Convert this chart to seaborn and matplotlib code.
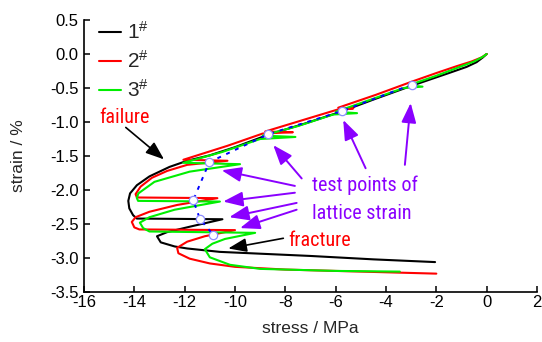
import numpy as np
import pandas as pd
import matplotlib
matplotlib.use("Agg")
import matplotlib.pyplot as plt
from matplotlib import font_manager
from matplotlib.lines import Line2D
import seaborn as sns

# ---------------- data (stress MPa, strain %) ----------------
s1_stress = [0, -0.15, -0.4, -0.8, -1.5, -3.0, -4.5, -5.8, -7.2, -8.7, -10.0, -11.0, -11.9,
             -12.6, -13.4, -13.9, -14.17, -14.24, -14.2, -14.05, -13.9, -10.5, -11.8, -12.7,
             -13.1, -12.95, -12.4, -11.9, -10.6, -9.4, -7.0, -4.5, -2.05]
s1_strain = [0, -0.05, -0.12, -0.19, -0.28, -0.47, -0.67, -0.85, -1.02, -1.19, -1.37, -1.49, -1.57,
             -1.66, -1.80, -1.93, -2.05, -2.16, -2.27, -2.37, -2.42, -2.43, -2.54, -2.62,
             -2.68, -2.77, -2.83, -2.86, -2.91, -2.93, -2.97, -3.02, -3.06]

s2_stress = [0, -0.2, -0.6, -1.2, -2.0, -3.0, -4.4, -5.9, -5.3, -5.95, -7.2, -8.8, -7.7, -8.9,
             -10.3, -12.05, -10.3, -11.9, -12.7, -13.3, -13.75, -13.95, -13.9, -10.7, -12.3,
             -13.4, -13.95, -14.1, -14.0, -13.8, -10.0, -11.2, -11.9, -12.3, -12.25, -11.8,
             -11.0, -10.0, -8.0, -5.0, -2.0]
s2_strain = [0, -0.05, -0.11, -0.18, -0.28, -0.41, -0.60, -0.79, -0.80, -0.82, -0.96, -1.14, -1.15, -1.17,
             -1.35, -1.555, -1.57, -1.63, -1.72, -1.82, -1.95, -2.06, -2.11, -2.12, -2.22,
             -2.32, -2.40, -2.47, -2.55, -2.58, -2.59, -2.68, -2.76, -2.85, -2.93, -3.01,
             -3.08, -3.13, -3.17, -3.20, -3.23]

s3_stress = [0, -0.15, -0.5, -1.0, -2.0, -3.1, -2.55, -3.3, -4.6, -6.0, -5.15, -6.1, -7.5, -8.9,
             -7.6, -9.0, -10.5, -12.05, -9.8, -11.8, -13.2, -13.84, -13.9, -13.85, -10.6,
             -12.4, -13.4, -13.78, -13.65, -13.4, -9.2, -10.4, -10.9, -11.2, -11.0, -10.2,
             -9.0, -6.0, -3.45]
s3_strain = [0, -0.04, -0.11, -0.18, -0.32, -0.46, -0.48, -0.50, -0.67, -0.85, -0.87, -0.89, -1.06, -1.20,
             -1.22, -1.25, -1.44, -1.60, -1.62, -1.73, -1.88, -2.05, -2.12, -2.16, -2.17,
             -2.29, -2.40, -2.48, -2.56, -2.61, -2.63, -2.72, -2.79, -2.87, -2.99, -3.10,
             -3.16, -3.19, -3.20]

test_stress = [-2.98, -5.76, -8.68, -11.02, -11.66, -11.39, -10.86]
test_strain = [-0.45, -0.84, -1.18, -1.59, -2.15, -2.43, -2.66]

samples = ["1#", "2#", "3#"]
legend_labels = [r"$\mathregular{1^{\#}}$", r"$\mathregular{2^{\#}}$", r"$\mathregular{3^{\#}}$"]
x_ticks = [-16, -14, -12, -10, -8, -6, -4, -2, 0, 2]
y_ticks = [0.5, 0.0, -0.5, -1.0, -1.5, -2.0, -2.5, -3.0, -3.5]

# ---------------- styling ----------------
sns.set_theme(style="ticks")
plt.rcParams["font.family"] = ["Liberation Sans", "DejaVu Sans"]
plt.rcParams["axes.unicode_minus"] = False
plt.rcParams["mathtext.fontset"] = "custom"
plt.rcParams["mathtext.rm"] = "Liberation Sans"

names = {f.name for f in font_manager.fontManager.ttflist}
ANN_FONT = ["Liberation Sans", "DejaVu Sans"]
ANN_SIZE = 12.5
for cand in ["Liberation Sans Narrow", "Arial Narrow", "Roboto Condensed", "Open Sans Condensed"]:
    if cand in names:
        ANN_FONT = [cand, "Liberation Sans"]
        ANN_SIZE = 14.5
        break

colors = {"1#": "#000000", "2#": "#FF0000", "3#": "#00EE00"}
purple = "#8A00FF"

frames = []
for name, xs, ys in zip(samples, [s1_stress, s2_stress, s3_stress], [s1_strain, s2_strain, s3_strain]):
    frames.append(pd.DataFrame({"stress": xs, "strain": ys, "sample": name}))
df = pd.concat(frames, ignore_index=True)

fig = plt.figure(figsize=(5.42, 3.42), dpi=100)
ax = fig.add_axes([84 / 542, 50 / 342, 453 / 542, 272 / 342])

sns.lineplot(data=df, x="stress", y="strain", hue="sample", palette=colors,
             sort=False, estimator=None, legend=False, linewidth=1.5, ax=ax, zorder=2)

# dotted line through test points + markers
ax.plot(test_stress, test_strain, linestyle=(0, (2, 3)), color="#0000FF", lw=1.4, zorder=3)
ax.plot(test_stress, test_strain, linestyle="none", marker="o", markersize=6,
        markerfacecolor="white", markeredgecolor="#8C8CFF", markeredgewidth=0.9, zorder=4)

ax.set_xlim(-16, 2)
ax.set_ylim(-3.5, 0.5)
ax.set_xticks(x_ticks)
ax.set_yticks(y_ticks)
ax.set_xticklabels([str(v) for v in x_ticks])
ax.set_yticklabels([f"{v:.1f}" for v in y_ticks])
ax.tick_params(direction="in", length=4, width=1.1, labelsize=12, colors="black", pad=2)
ax.tick_params(axis="y", pad=4)
for side in ["top", "right"]:
    ax.spines[side].set_visible(False)
for side in ["left", "bottom"]:
    ax.spines[side].set_linewidth(1.2)
    ax.spines[side].set_color("black")
ax.set_xlabel("stress / MPa", fontsize=12.5, labelpad=8)
ax.set_ylabel("strain / %", fontsize=12.5, labelpad=17)

# legend
handles = [Line2D([], [], color=colors[s], lw=1.5) for s in samples]
ax.legend(handles, legend_labels, loc="upper left", bbox_to_anchor=(0.033, 0.995),
          frameon=False, fontsize=15, handlelength=1.05, handletextpad=0.3,
          labelspacing=0.33, borderaxespad=0, borderpad=0)

# texts
ax.text(-15.40, -1.02, "failure", color="#FF0000", fontsize=ANN_SIZE, family=ANN_FONT,
        ha="left", va="baseline")
ax.text(-7.88, -2.82, "fracture", color="#FF0000", fontsize=ANN_SIZE, family=ANN_FONT,
        ha="left", va="baseline")
ax.text(-6.95, -2.01, "test points of", color=purple, fontsize=ANN_SIZE, family=ANN_FONT,
        ha="left", va="baseline")
ax.text(-6.95, -2.42, "lattice strain", color=purple, fontsize=ANN_SIZE, family=ANN_FONT,
        ha="left", va="baseline")

# arrows
purple_arrows = [((-3.25, -1.63), (-3.02, -0.72)),
                 ((-4.81, -1.68), (-5.70, -0.97)),
                 ((-7.35, -1.83), (-8.48, -1.34)),
                 ((-7.62, -1.94), (-10.53, -1.71)),
                 ((-7.62, -2.04), (-10.47, -2.17)),
                 ((-7.55, -2.19), (-10.23, -2.40)),
                 ((-7.55, -2.29), (-9.80, -2.56))]
for tail, head in purple_arrows:
    ax.annotate("", xy=head, xytext=tail,
                arrowprops=dict(arrowstyle="-|>,head_length=0.8,head_width=0.3",
                                color=purple, lw=1.4, shrinkA=0, shrinkB=0,
                                mutation_scale=15), zorder=5)
black_arrows = [((-14.34, -1.08), (-12.82, -1.55)),
                ((-8.08, -2.71), (-10.27, -2.86))]
for tail, head in black_arrows:
    ax.annotate("", xy=head, xytext=tail,
                arrowprops=dict(arrowstyle="-|>,head_length=0.8,head_width=0.3",
                                color="black", lw=1.2, shrinkA=0, shrinkB=0,
                                mutation_scale=14), zorder=5)

fig.savefig("out.png", dpi=100, facecolor="white")
